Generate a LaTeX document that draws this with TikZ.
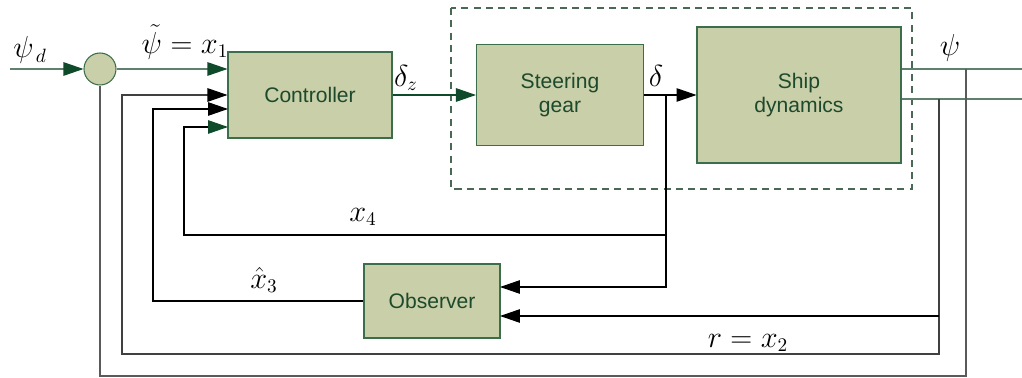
\documentclass[tikz,border=0pt]{standalone}
\usepackage{fontspec}
\setsansfont{Liberation Sans}
\usepackage{tikz}
\usetikzlibrary{arrows.meta,positioning,calc}
\usepackage{xcolor}
\definecolor{boxfill}{HTML}{C9CFA8}
\definecolor{boxline}{HTML}{3C6E4C}
\definecolor{boxtext}{HTML}{1D4A2C}
\definecolor{tipgreen}{HTML}{0F4A2A}
\definecolor{wiregreen}{HTML}{5E806C}
\definecolor{wiregray}{HTML}{5A5A5A}

\begin{document}
\begin{tikzpicture}[
    x=0.02cm, y=-0.02cm,
    block/.style={rectangle, draw=boxline, fill=boxfill, text=boxtext, line width=0.6pt,
        align=center, font=\sffamily\fontsize{12}{14}\selectfont},
    sig/.style={font=\fontsize{16}{18}\selectfont},
    blk/.style={-{Triangle[length=0.4cm, width=0.27cm, color=black]}, black, line width=0.6pt},
    grn/.style={-{Triangle[length=0.4cm, width=0.27cm, color=tipgreen]}, wiregreen, line width=0.6pt},
    wire/.style={line width=0.6pt}
]
\useasboundingbox (0,0) rectangle (1022,378);

% blocks
\node[block, circle, minimum size=0.64cm, inner sep=0pt] (sum) at (100,69) {};
\node[block, minimum width=3.28cm, minimum height=1.72cm] (ctrl) at (310,95) {Controller};
\node[block, minimum width=3.34cm, minimum height=2.02cm] (steer) at (560,95) {Steering\\gear};
\node[block, minimum width=4.08cm, minimum height=2.72cm] (ship) at (799,95) {Ship\\dynamics};
\node[block, minimum width=2.72cm, minimum height=1.48cm] (obs) at (432,301) {Observer};
\draw[wiregreen!80!black, dashed, line width=0.6pt, dash pattern=on 4pt off 3pt] (451,8) rectangle (912,189);

% helper points
\coordinate (in) at (10,69);
\coordinate (yout) at (1022,69);
\coordinate (rout) at (1022,99);
\coordinate (ytap) at (966,69);
\coordinate (rtap) at (939,99);
\coordinate (dtap) at (666,95);
\coordinate (x4tap) at (666,235);
\coordinate (c3) at (228,109);
\coordinate (c4) at (228,127);
\coordinate (k1) at (100,376);
\coordinate (k2) at (122,354);
\coordinate (k3) at (153,109);
\coordinate (k4) at (184,127);
\coordinate (o1) at (500,287);
\coordinate (o2) at (500,316);

% forward path
\draw[grn] (in) -- (sum);
\draw[grn] (sum) -- (ctrl.west |- sum);
\draw[grn, tipgreen] (ctrl.east) -- (steer.west);
\draw[blk] (steer.east) -- (ship.west);
\draw[wire, wiregreen] (ship.east |- yout) -- (yout);
\draw[wire, wiregreen] (ship.east |- rout) -- (rout);

% feedback
\draw[wire, wiregray] (ytap) |- (k1) -- (sum);
\draw[blk, black!75] (rtap) |- (k2) |- (ctrl.west);
\draw[blk] (rtap |- o2) -- (o2);
\draw[blk] (dtap) |- (o1);
\draw[grn, black] (x4tap) -| (k4) -- (c4);
\draw[blk] (obs.west) -| (k3) -- (c3);

% labels
\node[sig] (lpsid) at (30,50) {$\psi_{\,d}$};
\node[sig] (lerr) at (185,42) {$\tilde{\psi}=x_1$};
\node[sig] (ldz) at (406,78) {$\delta_z$};
\node[sig] (ld) at (656,76) {$\delta$};
\node[sig] (lpsi) at (950,48) {$\psi$};
\node[sig] (lx4) at (363,217) {$x_4$};
\node[sig] (lx3) at (264,280) {$\hat{x}_3$};
\node[sig] (lr) at (748,343) {$r=x_2$};
\end{tikzpicture}
\end{document}
